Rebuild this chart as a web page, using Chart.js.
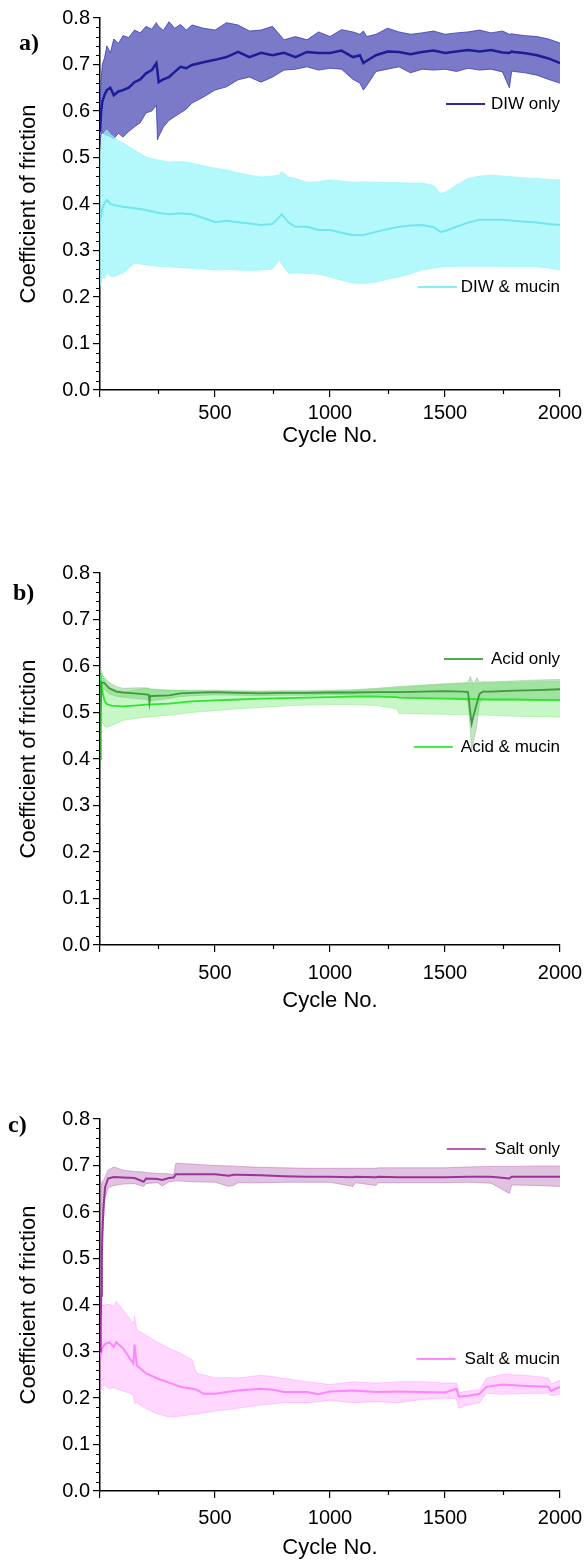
<!DOCTYPE html>
<html>
<head>
<meta charset="utf-8">
<script src="https://cdn.jsdelivr.net/npm/chart.js@4.4.0/dist/chart.umd.min.js"></script>
<style>
  body { margin: 0; background: #fff; }
  #page { position: relative; width: 585px; height: 1560px; }
  .panel { position: absolute; left: 0; width: 585px; height: 460px; }
</style>
</head>
<body>
<div id="page">
  <div class="panel" style="top:0"><canvas id="chartA" width="585" height="460"></canvas></div>
  <div class="panel" style="top:555px"><canvas id="chartB" width="585" height="460"></canvas></div>
  <div class="panel" style="top:1101px"><canvas id="chartC" width="585" height="460"></canvas></div>
</div>
<script>
// ---- data ----
const yTicks = [0.0, 0.1, 0.2, 0.3, 0.4, 0.5, 0.6, 0.7, 0.8];
const xTickLabels = [500, 1000, 1500, 2000];

// a) DIW only
const diwCycles = [0, 5, 10, 20, 30, 45, 60, 80, 100, 125, 150, 175, 200, 225, 245, 250, 255, 275, 300, 325, 350, 375, 400, 450, 500, 550, 600, 650, 700, 750, 800, 850, 900, 950, 1000, 1050, 1100, 1130, 1145, 1160, 1200, 1250, 1300, 1350, 1400, 1450, 1500, 1550, 1600, 1650, 1700, 1750, 1780, 1790, 1800, 1850, 1900, 1950, 2000];
const diwMean  = [0.555, 0.600, 0.620, 0.635, 0.645, 0.650, 0.634, 0.642, 0.645, 0.650, 0.662, 0.668, 0.681, 0.688, 0.703, 0.685, 0.662, 0.668, 0.673, 0.684, 0.695, 0.692, 0.699, 0.705, 0.710, 0.716, 0.727, 0.716, 0.725, 0.720, 0.725, 0.716, 0.727, 0.725, 0.725, 0.730, 0.716, 0.720, 0.703, 0.708, 0.720, 0.728, 0.727, 0.722, 0.727, 0.730, 0.725, 0.728, 0.731, 0.728, 0.731, 0.726, 0.725, 0.728, 0.727, 0.724, 0.720, 0.713, 0.703];
const diwUpper = [0.600, 0.670, 0.700, 0.715, 0.740, 0.725, 0.755, 0.745, 0.762, 0.758, 0.774, 0.768, 0.782, 0.776, 0.790, 0.785, 0.782, 0.773, 0.792, 0.778, 0.786, 0.774, 0.785, 0.778, 0.774, 0.790, 0.785, 0.772, 0.774, 0.782, 0.753, 0.760, 0.753, 0.770, 0.760, 0.775, 0.770, 0.765, 0.772, 0.760, 0.765, 0.778, 0.770, 0.765, 0.768, 0.772, 0.765, 0.768, 0.770, 0.774, 0.768, 0.772, 0.765, 0.766, 0.765, 0.762, 0.760, 0.755, 0.746];
const diwLower = [0.530, 0.550, 0.553, 0.550, 0.548, 0.545, 0.540, 0.552, 0.544, 0.556, 0.566, 0.575, 0.596, 0.600, 0.612, 0.538, 0.545, 0.565, 0.580, 0.588, 0.596, 0.604, 0.617, 0.630, 0.645, 0.652, 0.667, 0.673, 0.662, 0.673, 0.688, 0.690, 0.695, 0.688, 0.692, 0.690, 0.668, 0.660, 0.645, 0.655, 0.685, 0.690, 0.695, 0.682, 0.690, 0.688, 0.690, 0.685, 0.692, 0.688, 0.690, 0.684, 0.650, 0.686, 0.685, 0.682, 0.677, 0.668, 0.660];

// a) DIW & mucin
const diwMucinCycles = [0, 10, 20, 30, 45, 60, 80, 100, 150, 200, 250, 300, 350, 400, 450, 500, 550, 600, 650, 700, 750, 780, 790, 820, 850, 900, 950, 1000, 1050, 1100, 1150, 1200, 1250, 1300, 1350, 1400, 1450, 1480, 1500, 1550, 1600, 1650, 1700, 1750, 1800, 1850, 1900, 1950, 2000];
const diwMucinMean  = [0.360, 0.390, 0.402, 0.409, 0.400, 0.398, 0.396, 0.394, 0.391, 0.387, 0.381, 0.378, 0.380, 0.378, 0.370, 0.361, 0.364, 0.361, 0.358, 0.355, 0.357, 0.372, 0.378, 0.360, 0.351, 0.351, 0.344, 0.344, 0.338, 0.333, 0.334, 0.340, 0.346, 0.351, 0.354, 0.355, 0.350, 0.340, 0.342, 0.351, 0.360, 0.366, 0.366, 0.366, 0.364, 0.362, 0.360, 0.357, 0.355];
const diwMucinUpper = [0.500, 0.544, 0.555, 0.559, 0.550, 0.544, 0.536, 0.531, 0.516, 0.501, 0.495, 0.490, 0.492, 0.488, 0.482, 0.477, 0.473, 0.467, 0.462, 0.458, 0.460, 0.463, 0.470, 0.458, 0.455, 0.447, 0.448, 0.452, 0.449, 0.447, 0.448, 0.447, 0.446, 0.446, 0.445, 0.445, 0.440, 0.423, 0.425, 0.441, 0.455, 0.460, 0.462, 0.460, 0.458, 0.456, 0.455, 0.453, 0.452];
const diwMucinLower = [0.222, 0.243, 0.240, 0.251, 0.245, 0.243, 0.248, 0.251, 0.273, 0.269, 0.266, 0.265, 0.263, 0.262, 0.260, 0.258, 0.259, 0.258, 0.257, 0.258, 0.260, 0.280, 0.270, 0.251, 0.252, 0.251, 0.249, 0.243, 0.236, 0.230, 0.229, 0.232, 0.238, 0.243, 0.250, 0.258, 0.262, 0.264, 0.265, 0.266, 0.266, 0.266, 0.266, 0.265, 0.265, 0.265, 0.265, 0.262, 0.258];

// b) Acid only
const acidCycles = [0, 3, 6, 10, 20, 40, 70, 100, 150, 200, 212, 215, 218, 250, 300, 350, 400, 500, 600, 700, 800, 900, 1000, 1100, 1200, 1300, 1400, 1500, 1580, 1600, 1610, 1616, 1625, 1638, 1650, 1665, 1700, 1800, 1900, 2000];
const acidMean  = [0.400, 0.500, 0.565, 0.565, 0.563, 0.552, 0.545, 0.543, 0.541, 0.539, 0.538, 0.522, 0.535, 0.536, 0.537, 0.541, 0.542, 0.544, 0.542, 0.541, 0.542, 0.542, 0.543, 0.543, 0.544, 0.544, 0.545, 0.546, 0.545, 0.544, 0.500, 0.476, 0.495, 0.519, 0.540, 0.545, 0.545, 0.547, 0.548, 0.550];
const acidUpper = [0.420, 0.550, 0.585, 0.580, 0.575, 0.565, 0.556, 0.552, 0.553, 0.553, 0.552, 0.550, 0.550, 0.549, 0.548, 0.548, 0.548, 0.548, 0.547, 0.546, 0.547, 0.547, 0.548, 0.549, 0.552, 0.556, 0.559, 0.562, 0.564, 0.565, 0.578, 0.570, 0.560, 0.575, 0.565, 0.566, 0.566, 0.568, 0.570, 0.571];
const acidLower = [0.380, 0.450, 0.540, 0.550, 0.550, 0.540, 0.535, 0.533, 0.530, 0.528, 0.527, 0.518, 0.525, 0.527, 0.530, 0.534, 0.536, 0.538, 0.537, 0.536, 0.537, 0.537, 0.538, 0.537, 0.535, 0.532, 0.531, 0.530, 0.528, 0.525, 0.460, 0.420, 0.440, 0.470, 0.520, 0.528, 0.527, 0.527, 0.526, 0.525];

// b) Acid & mucin
const acidMucinCycles = [0, 3, 6, 10, 20, 30, 50, 100, 150, 200, 300, 400, 500, 600, 700, 800, 900, 1000, 1100, 1200, 1290, 1300, 1400, 1500, 1600, 1700, 1800, 1900, 2000];
const acidMucinMean  = [0.580, 0.575, 0.560, 0.545, 0.525, 0.518, 0.515, 0.513, 0.515, 0.517, 0.519, 0.524, 0.526, 0.528, 0.530, 0.531, 0.532, 0.533, 0.534, 0.534, 0.533, 0.532, 0.531, 0.530, 0.529, 0.528, 0.528, 0.527, 0.527];
const acidMucinUpper = [0.590, 0.595, 0.590, 0.585, 0.570, 0.560, 0.552, 0.545, 0.548, 0.552, 0.548, 0.546, 0.545, 0.545, 0.545, 0.545, 0.545, 0.545, 0.547, 0.550, 0.553, 0.553, 0.557, 0.560, 0.563, 0.564, 0.565, 0.566, 0.567];
const acidMucinLower = [0.550, 0.520, 0.500, 0.480, 0.470, 0.468, 0.472, 0.483, 0.487, 0.490, 0.494, 0.500, 0.504, 0.508, 0.511, 0.514, 0.516, 0.517, 0.517, 0.515, 0.508, 0.498, 0.497, 0.496, 0.495, 0.494, 0.492, 0.491, 0.490];

// c) Salt only
const saltCycles = [0, 3, 5, 8, 10, 15, 22, 35, 60, 100, 150, 190, 200, 250, 270, 300, 320, 330, 400, 500, 560, 580, 600, 700, 800, 900, 1000, 1100, 1110, 1200, 1210, 1300, 1400, 1500, 1600, 1700, 1780, 1790, 1800, 1900, 2000];
const saltMean  = [0.300, 0.360, 0.420, 0.500, 0.550, 0.610, 0.653, 0.672, 0.675, 0.674, 0.673, 0.665, 0.672, 0.671, 0.669, 0.673, 0.674, 0.681, 0.681, 0.681, 0.678, 0.680, 0.680, 0.679, 0.677, 0.676, 0.676, 0.675, 0.676, 0.675, 0.676, 0.675, 0.675, 0.675, 0.676, 0.676, 0.672, 0.676, 0.676, 0.676, 0.676];
const saltUpper = [0.360, 0.500, 0.660, 0.665, 0.665, 0.668, 0.675, 0.690, 0.697, 0.690, 0.687, 0.686, 0.685, 0.683, 0.683, 0.682, 0.680, 0.705, 0.703, 0.700, 0.699, 0.699, 0.698, 0.696, 0.695, 0.694, 0.694, 0.694, 0.694, 0.694, 0.695, 0.695, 0.695, 0.695, 0.697, 0.698, 0.698, 0.698, 0.698, 0.699, 0.699];
const saltLower = [0.280, 0.320, 0.380, 0.450, 0.520, 0.580, 0.630, 0.652, 0.657, 0.660, 0.661, 0.655, 0.661, 0.663, 0.656, 0.665, 0.666, 0.667, 0.665, 0.664, 0.655, 0.657, 0.663, 0.663, 0.664, 0.664, 0.664, 0.655, 0.663, 0.657, 0.663, 0.663, 0.663, 0.663, 0.664, 0.662, 0.640, 0.658, 0.658, 0.657, 0.655];

// c) Salt & mucin
const saltMucinCycles = [0, 10, 20, 40, 60, 70, 100, 130, 145, 150, 160, 200, 250, 300, 350, 400, 420, 450, 500, 550, 600, 700, 750, 800, 900, 950, 1000, 1100, 1200, 1300, 1400, 1500, 1550, 1560, 1600, 1650, 1680, 1750, 1850, 1950, 1960, 2000];
const saltMucinMean  = [0.290, 0.307, 0.315, 0.320, 0.310, 0.320, 0.307, 0.285, 0.274, 0.315, 0.270, 0.253, 0.242, 0.233, 0.224, 0.220, 0.218, 0.209, 0.209, 0.213, 0.216, 0.220, 0.218, 0.213, 0.213, 0.208, 0.214, 0.216, 0.213, 0.214, 0.213, 0.212, 0.220, 0.203, 0.205, 0.209, 0.224, 0.229, 0.226, 0.224, 0.215, 0.224];
const saltMucinUpper = [0.394, 0.400, 0.400, 0.402, 0.397, 0.408, 0.390, 0.370, 0.360, 0.376, 0.347, 0.335, 0.320, 0.307, 0.296, 0.282, 0.253, 0.250, 0.243, 0.244, 0.243, 0.249, 0.246, 0.242, 0.235, 0.232, 0.229, 0.235, 0.232, 0.235, 0.235, 0.232, 0.232, 0.212, 0.215, 0.218, 0.242, 0.251, 0.249, 0.243, 0.230, 0.238];
const saltMucinLower = [0.213, 0.225, 0.228, 0.220, 0.222, 0.220, 0.215, 0.210, 0.206, 0.188, 0.190, 0.177, 0.166, 0.159, 0.161, 0.165, 0.165, 0.168, 0.172, 0.175, 0.178, 0.185, 0.187, 0.190, 0.190, 0.192, 0.195, 0.190, 0.192, 0.190, 0.197, 0.200, 0.198, 0.178, 0.185, 0.190, 0.210, 0.208, 0.210, 0.210, 0.205, 0.208];

// ---- helpers ----
Chart.defaults.font.family = "'Liberation Sans', Arial, sans-serif";
Chart.defaults.color = '#000';

function pts(xs, ys) {
    return xs.map((x, i) => ({ x: x, y: ys[i] }));
}

// lower edge, upper edge filled to the lower one, then the mean line.
// smaller "order" is painted later (on top), so means get the low numbers
function bandSeries(cycles, mean, upper, lower, lineColor, fillColor, edgeColor, lineWidth, bandOrder, meanOrder) {
    return [
        { data: pts(cycles, lower), borderColor: edgeColor, borderWidth: 0.8, pointRadius: 0, fill: false, order: bandOrder },
        { data: pts(cycles, upper), borderColor: edgeColor, borderWidth: 0.8, pointRadius: 0, fill: '-1', backgroundColor: fillColor, order: bandOrder },
        { data: pts(cycles, mean), borderColor: lineColor, borderWidth: lineWidth, pointRadius: 0, fill: false, order: meanOrder }
    ];
}

const panelDecor = {
    id: 'panelDecor',
    afterDraw(chart, args, opts) {
        const ctx = chart.ctx;
        const xs = chart.scales.x, ys = chart.scales.y;
        ctx.save();
        // minor ticks
        ctx.strokeStyle = '#000';
        ctx.lineWidth = 1.2;
        ctx.beginPath();
        for (let v = 250; v < 2000; v += 500) {
            const px = Math.round(xs.getPixelForValue(v)) + 0.5;
            ctx.moveTo(px, ys.bottom);
            ctx.lineTo(px, ys.bottom + 4);
        }
        for (let k = 0; k <= 40; k++) {
            if (k % 5 === 0) continue;
            const py = Math.round(ys.getPixelForValue(k * 0.02)) + 0.5;
            ctx.moveTo(xs.left - 4, py);
            ctx.lineTo(xs.left, py);
        }
        ctx.stroke();

        // panel letter
        ctx.fillStyle = '#000';
        ctx.font = "bold 24px 'Liberation Serif', 'Times New Roman', serif";
        ctx.textBaseline = 'alphabetic';
        ctx.textAlign = 'left';
        ctx.fillText(opts.letter, opts.letterX, opts.letterY);

        // legend entries
        ctx.font = "17px 'Liberation Sans', Arial, sans-serif";
        ctx.textBaseline = 'middle';
        opts.legend.forEach(item => {
            const w = ctx.measureText(item.text).width;
            const textX = 560 - w;
            ctx.fillText(item.text, textX, item.y);
            ctx.strokeStyle = item.color;
            ctx.lineWidth = 2;
            ctx.beginPath();
            ctx.moveTo(textX - item.gap - 39, item.y);
            ctx.lineTo(textX - item.gap, item.y);
            ctx.stroke();
        });
        ctx.restore();
    }
};

// xAxis: { height, labelPad, titlePad } - spacing under the plot differs per panel
function makeChart(id, datasets, decor, xAxis) {
    return new Chart(document.getElementById(id).getContext('2d'), {
        type: 'line',
        data: { datasets: datasets },
        plugins: [panelDecor],
        options: {
            responsive: false,
            animation: false,
            layout: { padding: { top: 18, right: 25, bottom: 70 - xAxis.height, left: 0 } },
            elements: { line: { tension: 0 } },
            plugins: {
                legend: { display: false },
                tooltip: { enabled: false },
                panelDecor: decor
            },
            scales: {
                x: {
                    type: 'linear',
                    min: 0, max: 2000,
                    afterFit: s => { s.height = xAxis.height; s.paddingLeft = 0; s.paddingRight = 0; },
                    afterBuildTicks: s => { s.ticks = [0].concat(xTickLabels).map(v => ({ value: v })); },
                    ticks: {
                        font: { size: 20 },
                        padding: xAxis.labelPad,
                        maxRotation: 0,
                        callback: v => (v === 0 ? '' : String(v))
                    },
                    grid: { drawOnChartArea: false, tickLength: 7, color: '#000', lineWidth: 1.2 },
                    border: { color: '#000', width: 1.5 },
                    title: { display: true, text: 'Cycle No.', font: { size: 22 }, padding: { top: 0, bottom: xAxis.titlePad } }
                },
                y: {
                    min: 0, max: 0.8,
                    afterFit: s => { s.width = 100; },
                    afterBuildTicks: s => { s.ticks = yTicks.map(v => ({ value: v })); },
                    ticks: {
                        font: { size: 20 },
                        padding: 3,
                        callback: v => Number(v).toFixed(1)
                    },
                    grid: { drawOnChartArea: false, tickLength: 7, color: '#000', lineWidth: 1.2 },
                    border: { color: '#000', width: 1.5 },
                    title: { display: true, text: 'Coefficient of friction', font: { size: 22 }, padding: { top: 16, bottom: 0 } }
                }
            }
        }
    });
}

// a)
makeChart('chartA',
    bandSeries(diwCycles, diwMean, diwUpper, diwLower, '#1c1c96', '#7a7ac9', '#3a3ab2', 2.5, 3, 0)
        .concat(bandSeries(diwMucinCycles, diwMucinMean, diwMucinUpper, diwMucinLower, '#72e6ef', 'rgba(150,245,250,0.72)', 'rgba(150,245,250,0.8)', 2, 2, 1)),
    {
        letter: 'a)', letterX: 19, letterY: 50,
        legend: [
            { text: 'DIW only', y: 104, color: '#2a2aa0', gap: 6 },
            { text: 'DIW & mucin', y: 287, color: '#88eef5', gap: 4 }
        ]
    },
    { height: 60, labelPad: 4, titlePad: 1 });

// b)
makeChart('chartB',
    bandSeries(acidCycles, acidMean, acidUpper, acidLower, '#3c9c3c', 'rgba(70,160,70,0.3)', 'rgba(70,160,70,0.35)', 1.8, 3, 0)
        .concat(bandSeries(acidMucinCycles, acidMucinMean, acidMucinUpper, acidMucinLower, '#2ee62e', 'rgba(70,230,70,0.3)', 'rgba(70,230,70,0.35)', 1.8, 2, 1)),
    {
        letter: 'b)', letterX: 13, letterY: 45,
        legend: [
            { text: 'Acid only', y: 104, color: '#4caf4c', gap: 8 },
            { text: 'Acid & mucin', y: 192, color: '#44ee44', gap: 8 }
        ]
    },
    { height: 70, labelPad: 9, titlePad: 1 });

// c)
makeChart('chartC',
    bandSeries(saltCycles, saltMean, saltUpper, saltLower, '#9a349a', 'rgba(170,80,170,0.35)', 'rgba(170,80,170,0.5)', 2, 3, 0)
        .concat(bandSeries(saltMucinCycles, saltMucinMean, saltMucinUpper, saltMucinLower, '#ff84ff', 'rgba(255,140,255,0.35)', 'rgba(255,140,255,0.5)', 2, 2, 1)),
    {
        letter: 'c)', letterX: 8, letterY: 31,
        legend: [
            { text: 'Salt only', y: 48, color: '#b060b0', gap: 9 },
            { text: 'Salt & mucin', y: 258, color: '#ff88ff', gap: 9 }
        ]
    },
    { height: 70, labelPad: 8, titlePad: 0 });
</script>
</body>
</html>
